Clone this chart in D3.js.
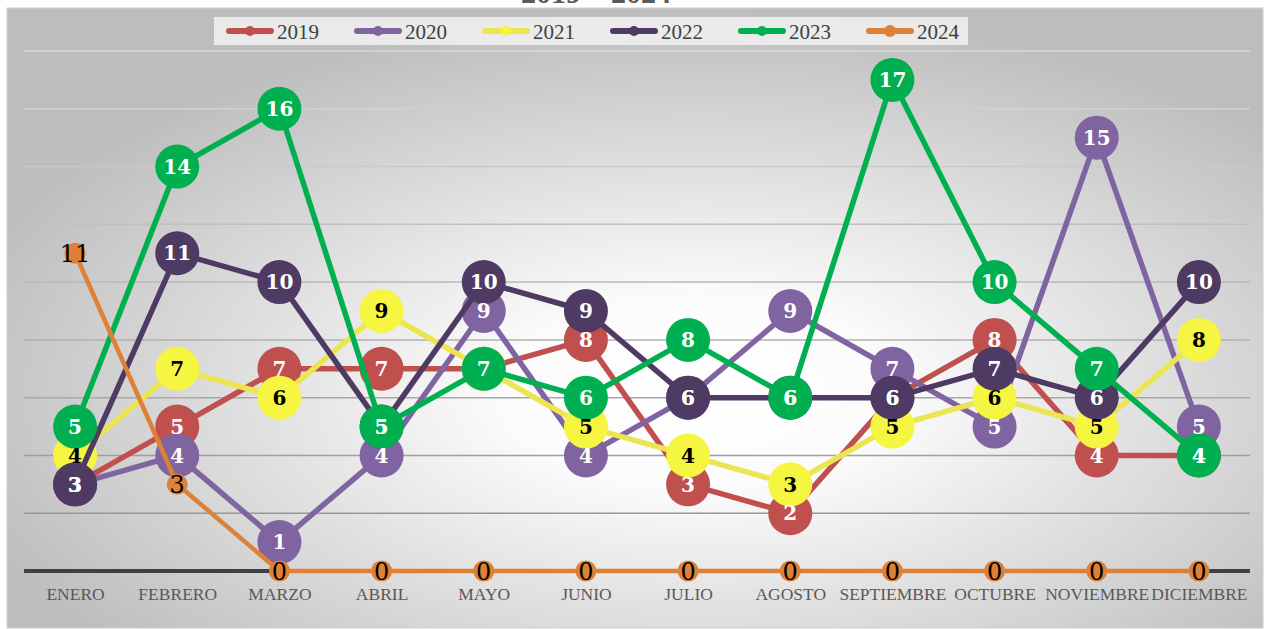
<!DOCTYPE html>
<html>
<head>
<meta charset="utf-8">
<script src="https://cdn.jsdelivr.net/npm/d3@7"></script>
<style>
html,body{margin:0;padding:0;background:#fff;}
svg{display:block;}
</style>
</head>
<body>
<svg id="chart" width="1265" height="629"></svg>
<script>
const months = ["ENERO","FEBRERO","MARZO","ABRIL","MAYO","JUNIO","JULIO","AGOSTO","SEPTIEMBRE","OCTUBRE","NOVIEMBRE","DICIEMBRE"];
const years = ["2019","2020","2021","2022","2023","2024"];
const v2019 = [3,5,7,7,7,8,3,2,6,8,4,4];
const v2020 = [3,4,1,4,9,4,6,9,7,5,15,5];
const v2021 = [4,7,6,9,7,5,4,3,5,6,5,8];
const v2022 = [3,11,10,5,10,9,6,6,6,7,6,10];
const v2023 = [5,14,16,5,7,6,8,6,17,10,7,4];
const v2024 = [11,3,0,0,0,0,0,0,0,0,0,0];
const yTicks = [0,2,4,6,8,10,12,14,16,18];
const titleText = "2019 – 2024";

const lineColors   = ["#C0504D","#8064A2","#ECE552","#4E3A62","#00B050","#DE8035"];
const markerColors = ["#C0504D","#8064A2","#F5F542","#4E3A62","#00B050","#DE8035"];
const labelColors  = ["#ffffff","#ffffff","#000000","#ffffff","#ffffff","#000000"];
const seriesValues = [v2019,v2020,v2021,v2022,v2023,v2024];

const svg = d3.select("#chart");
const defs = svg.append("defs");
const rg = defs.append("radialGradient").attr("id","bg")
  .attr("cx","55%").attr("cy","62%").attr("r","62%");
rg.append("stop").attr("offset","0%").attr("stop-color","#ffffff");
rg.append("stop").attr("offset","25%").attr("stop-color","#fbfbfb");
rg.append("stop").attr("offset","100%").attr("stop-color","#bdbdbd");

// chart area
svg.append("rect").attr("x",7).attr("y",8).attr("width",1256).attr("height",620)
  .attr("fill","url(#bg)").attr("stroke","#cfcfcf").attr("stroke-width",1);

// title (mostly cut off at top)
svg.append("text").attr("x",596).attr("y",3).attr("text-anchor","middle")
  .attr("font-family","Liberation Serif").attr("font-weight","bold")
  .attr("font-size",30).attr("fill","#595959").text(titleText);

const x = d3.scalePoint().domain(months).range([24,1250]).padding(0.5);
const y = d3.scaleLinear().domain([0,18]).range([571,51]);

// gridlines
const gridColor = d3.scaleLinear().domain([18,0]).range(["#d9d9d9","#8f8f8f"]);
const yAxis = d3.axisLeft(y).tickValues(yTicks.filter(t=>t>0)).tickSize(-1226).tickFormat("");
const gAxis = svg.append("g").attr("transform","translate(1250,0)");
svg.append("g").selectAll("line").data(yTicks.filter(t=>t>0)).join("line")
  .attr("x1",24).attr("x2",1250)
  .attr("y1",d=>y(d)).attr("y2",d=>y(d))
  .attr("stroke",d=>gridColor(d)).attr("stroke-width",1.5);

// x axis
const xAxis = d3.axisBottom(x).tickSize(0).tickPadding(0);
const gx = svg.append("g").attr("transform",`translate(0,${y(0)})`).call(xAxis);
gx.select(".domain").attr("d","M24,0H1250").attr("stroke","#404040").attr("stroke-width",4);
gx.selectAll("text").attr("dy",null).attr("y",29)
  .attr("font-family","Liberation Serif").attr("font-size",17.5).attr("fill","#595959");

// series
const line = d3.line().x((d,i)=>x(months[i])).y(d=>y(d));
seriesValues.forEach((vals,si)=>{
  const g = svg.append("g");
  const isOrange = si===5;
  g.append("path").datum(vals).attr("d",line).attr("fill","none")
    .attr("stroke",lineColors[si]).attr("stroke-width",isOrange?4.5:5.5)
    .attr("stroke-linejoin","round").attr("stroke-linecap","round");
  g.selectAll("circle").data(vals).join("circle")
    .attr("cx",(d,i)=>x(months[i])).attr("cy",d=>y(d))
    .attr("r",isOrange?10.5:22).attr("fill",markerColors[si]);
});

// labels on top
seriesValues.forEach((vals,si)=>{
  const isOrange = si===5;
  svg.append("g").selectAll("text").data(vals).join("text")
    .attr("x",(d,i)=>x(months[i])).attr("y",d=>y(d))
    .attr("dy",isOrange?"0.36em":"0.36em")
    .attr("text-anchor","middle")
    .attr("font-family","DejaVu Serif")
    .attr("font-weight",isOrange?"normal":"bold")
    .attr("font-size",isOrange?24:20)
    .attr("fill",labelColors[si])
    .text(d=>d);
});

// legend
const lg = svg.append("g");
lg.append("rect").attr("x",214).attr("y",17).attr("width",754).attr("height",28)
  .attr("fill","#f2f2f2").attr("fill-opacity",0.85);
const legendX = d3.scalePoint().domain(years).range([227,867]);
years.forEach((yr,i)=>{
  const x0 = legendX(yr);
  lg.append("line").attr("x1",x0+2).attr("x2",x0+44).attr("y1",31).attr("y2",31)
    .attr("stroke",lineColors[i]).attr("stroke-width",6).attr("stroke-linecap","round");
  lg.append("circle").attr("cx",x0+23).attr("cy",31).attr("r",i===5?6:5).attr("fill",markerColors[i]);
  lg.append("text").attr("x",x0+50).attr("y",38.5)
    .attr("font-family","Liberation Serif").attr("font-size",21).attr("fill","#404040").text(yr);
});
</script>
</body>
</html>
